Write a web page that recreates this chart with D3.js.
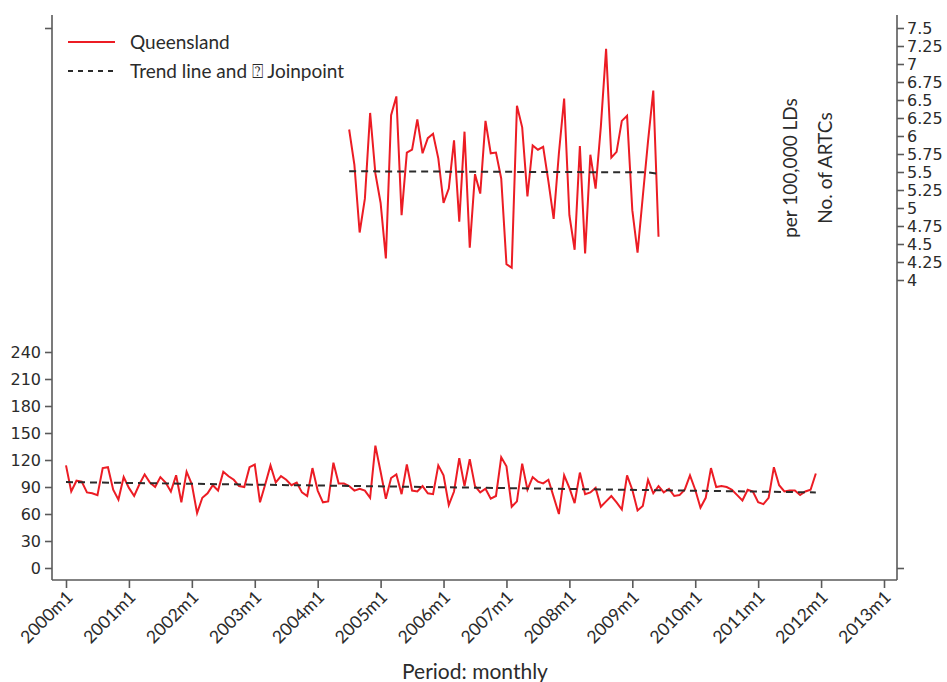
<!DOCTYPE html>
<html>
<head>
<meta charset="utf-8">
<script src="https://cdn.jsdelivr.net/npm/d3@7"></script>
<style>
  html, body { margin: 0; padding: 0; background: #fff; }
  svg { display: block; }
</style>
</head>
<body>
<svg id="chart" width="947" height="682"></svg>
<script>
// Monthly rate, Queensland, 2000m1 .. 2011m12 (left axis)
const qldMonthly = [
  114, 85, 97, 96, 84, 83, 81, 111, 112, 87, 76, 101,
  89, 80, 93, 104, 95, 90, 101, 95, 85, 103, 73, 107,
  93, 61, 78, 83, 92, 86, 107, 102, 98, 91, 90, 112,
  115, 73, 93, 114, 95, 102, 98, 92, 95, 84, 80, 111,
  86, 73, 74, 117, 94, 94, 91, 86, 88, 86, 78, 136,
  107, 77, 100, 104, 82, 115, 86, 85, 91, 83, 82, 114,
  103, 70, 85, 122, 91, 121, 91, 84, 88, 77, 80, 123,
  113, 68, 74, 116, 87, 101, 96, 94, 98, 79, 60, 103,
  89, 72, 106, 82, 84, 89, 68, 74, 80, 73, 65, 103,
  87, 64, 69, 98, 83, 91, 84, 88, 80, 81, 87, 103,
  87, 67, 78, 111, 90, 91, 90, 87, 81, 75, 87, 85,
  73, 71, 78, 112, 92, 85, 86, 86, 81, 85, 87, 105
];
const qldStartMonth = 0;           // 2000m1

// Joinpoint trend for the monthly series: [month index, value]
const qldTrend = [[0, 95.5], [143, 84]];

// Per 100,000 LDs, Queensland, 2004m7 .. 2009m6 (right axis)
const qldRate = [
  6.09, 5.60, 4.66, 5.13, 6.32, 5.48,
  5.07, 4.30, 6.29, 6.55, 4.90, 5.77, 5.81, 6.23, 5.76, 5.97, 6.03, 5.69,
  5.07, 5.27, 5.94, 4.81, 6.06, 4.45, 5.47, 5.20, 6.21, 5.76, 5.77, 5.41,
  4.22, 4.17, 6.42, 6.12, 5.16, 5.87, 5.81, 5.85, 5.37, 4.85, 5.76, 6.52,
  4.90, 4.42, 5.86, 4.37, 5.74, 5.27, 6.13, 7.21, 5.70, 5.78, 6.21, 6.28,
  4.97, 4.38, 5.16, 5.93, 6.63, 4.60
];
const qldRateStartMonth = 54;      // 2004m7

// Joinpoint trend for the rate series
const qldRateTrend = [[54, 5.51], [111, 5.495], [113, 5.475]];

// Axis ticks and labels
const xTickMonths = d3.range(0, 157, 12);
const xTickLabels = ["2000m1", "2001m1", "2002m1", "2003m1", "2004m1", "2005m1", "2006m1",
                     "2007m1", "2008m1", "2009m1", "2010m1", "2011m1", "2012m1", "2013m1"];
const leftTicks = [0, 30, 60, 90, 120, 150, 180, 210, 240, 600];
const leftTickLabels = ["0", "30", "60", "90", "120", "150", "180", "210", "240", ""];
const rightTicks = [0, 4, 4.25, 4.5, 4.75, 5, 5.25, 5.5, 5.75, 6, 6.25, 6.5, 6.75, 7, 7.25, 7.5];
const rightTickLabels = ["", "4", "4.25", "4.5", "4.75", "5", "5.25", "5.5", "5.75", "6",
                         "6.25", "6.5", "6.75", "7", "7.25", "7.5"];

const legendLabels = ["Queensland", "Trend line and \u2370 Joinpoint"];
const xTitle = "Period: monthly";
const rightTitles = ["per 100,000 LDs", "No. of ARTCs"];

// ---- layout ----
const frame = { left: 52, right: 897, top: 15, bottom: 580 };
const RED = "#ec1c24";
const INK = "#2b2b2b";
const AXIS = "#5a5a5a";
const tickFont = "'DejaVu Sans', Verdana, sans-serif";
const textFont = "Lato, 'Open Sans', sans-serif";

const svg = d3.select("#chart");

const x = d3.scaleLinear().domain([0, 156]).range([66, 884]);
const yLeft = d3.scaleLinear().domain([0, 600]).range([568, 28]);
const yRight = d3.scaleLinear().domain([0, 7.5]).range([568, 28]);

// frame lines (left, bottom, right)
const frameG = svg.append("g").attr("stroke", AXIS).attr("stroke-width", 1.6).attr("fill", "none");
frameG.append("line").attr("x1", frame.left).attr("x2", frame.left).attr("y1", frame.top).attr("y2", frame.bottom);
frameG.append("line").attr("x1", frame.left).attr("x2", frame.right).attr("y1", frame.bottom).attr("y2", frame.bottom);
frameG.append("line").attr("x1", frame.right).attr("x2", frame.right).attr("y1", frame.top).attr("y2", frame.bottom);

// bottom axis
const xAxis = d3.axisBottom(x)
  .tickValues(xTickMonths)
  .tickFormat((d, i) => xTickLabels[i])
  .tickSizeInner(8).tickSizeOuter(0).tickPadding(4);
const gx = svg.append("g").attr("transform", `translate(0,${frame.bottom})`).call(xAxis);
gx.select(".domain").remove();
gx.selectAll(".tick line").attr("stroke", AXIS).attr("stroke-width", 1.6);
gx.selectAll(".tick text")
  .attr("fill", INK)
  .style("font-family", textFont)
  .style("font-size", "17.5px")
  .attr("text-anchor", "end")
  .attr("dy", "0.35em")
  .attr("transform", "translate(3,14) rotate(-45)")
  .attr("y", 0).attr("x", 0);

// left axis
const yAxisL = d3.axisLeft(yLeft)
  .tickValues(leftTicks)
  .tickFormat((d, i) => leftTickLabels[i])
  .tickSizeInner(7).tickSizeOuter(0).tickPadding(4);
const gl = svg.append("g").attr("transform", `translate(${frame.left},0)`).call(yAxisL);
gl.select(".domain").remove();
gl.selectAll(".tick line").attr("stroke", AXIS).attr("stroke-width", 1.6);
gl.selectAll(".tick text").attr("fill", INK)
  .style("font-family", tickFont).style("font-size", "16px");

// right axis
const yAxisR = d3.axisRight(yRight)
  .tickValues(rightTicks)
  .tickFormat((d, i) => rightTickLabels[i])
  .tickSizeInner(7).tickSizeOuter(0).tickPadding(3);
const gr = svg.append("g").attr("transform", `translate(${frame.right},0)`).call(yAxisR);
gr.select(".domain").remove();
gr.selectAll(".tick line").attr("stroke", AXIS).attr("stroke-width", 1.6);
gr.selectAll(".tick text").attr("fill", INK)
  .style("font-family", tickFont).style("font-size", "16px");

// series lines
const lineLeft = d3.line().x(d => x(d[0])).y(d => yLeft(d[1]));
const lineRight = d3.line().x(d => x(d[0])).y(d => yRight(d[1]));

const monthlyPts = qldMonthly.map((v, i) => [qldStartMonth + i, v]);
const ratePts = qldRate.map((v, i) => [qldRateStartMonth + i, v]);

svg.append("path").datum(monthlyPts)
  .attr("d", lineLeft).attr("fill", "none")
  .attr("stroke", RED).attr("stroke-width", 2).attr("stroke-linejoin", "miter");
svg.append("path").datum(qldTrend)
  .attr("d", lineLeft).attr("fill", "none")
  .attr("stroke", INK).attr("stroke-width", 2).attr("stroke-dasharray", "7,5");

svg.append("path").datum(ratePts)
  .attr("d", lineRight).attr("fill", "none")
  .attr("stroke", RED).attr("stroke-width", 2).attr("stroke-linejoin", "miter");
svg.append("path").datum(qldRateTrend)
  .attr("d", lineRight).attr("fill", "none")
  .attr("stroke", INK).attr("stroke-width", 2).attr("stroke-dasharray", "7,5");

// legend
const legend = svg.append("g").attr("transform", "translate(68,42)");
legend.append("line").attr("x1", 0).attr("x2", 47).attr("y1", 0).attr("y2", 0)
  .attr("stroke", RED).attr("stroke-width", 2);
legend.append("line").attr("x1", 0).attr("x2", 47).attr("y1", 29).attr("y2", 29)
  .attr("stroke", INK).attr("stroke-width", 2).attr("stroke-dasharray", "5,5");
legend.selectAll("text.lbl").data(legendLabels).join("text")
  .attr("class", "lbl")
  .attr("x", 62).attr("y", (d, i) => i * 29).attr("dy", "0.35em")
  .attr("fill", INK).style("font-family", textFont).style("font-size", "19px")
  .text(d => d);

// right-hand titles
svg.selectAll("text.rtitle").data(rightTitles).join("text")
  .attr("class", "rtitle")
  .attr("transform", (d, i) => `translate(${790 + i * 35},168) rotate(-90)`)
  .attr("text-anchor", "middle").attr("dy", "0.35em")
  .attr("fill", INK).style("font-family", textFont).style("font-size", "19px")
  .text(d => d);

// x title
svg.append("text")
  .attr("x", 475).attr("y", 679)
  .attr("text-anchor", "middle")
  .attr("fill", INK).style("font-family", textFont).style("font-size", "21px")
  .text(xTitle);
</script>
</body>
</html>
